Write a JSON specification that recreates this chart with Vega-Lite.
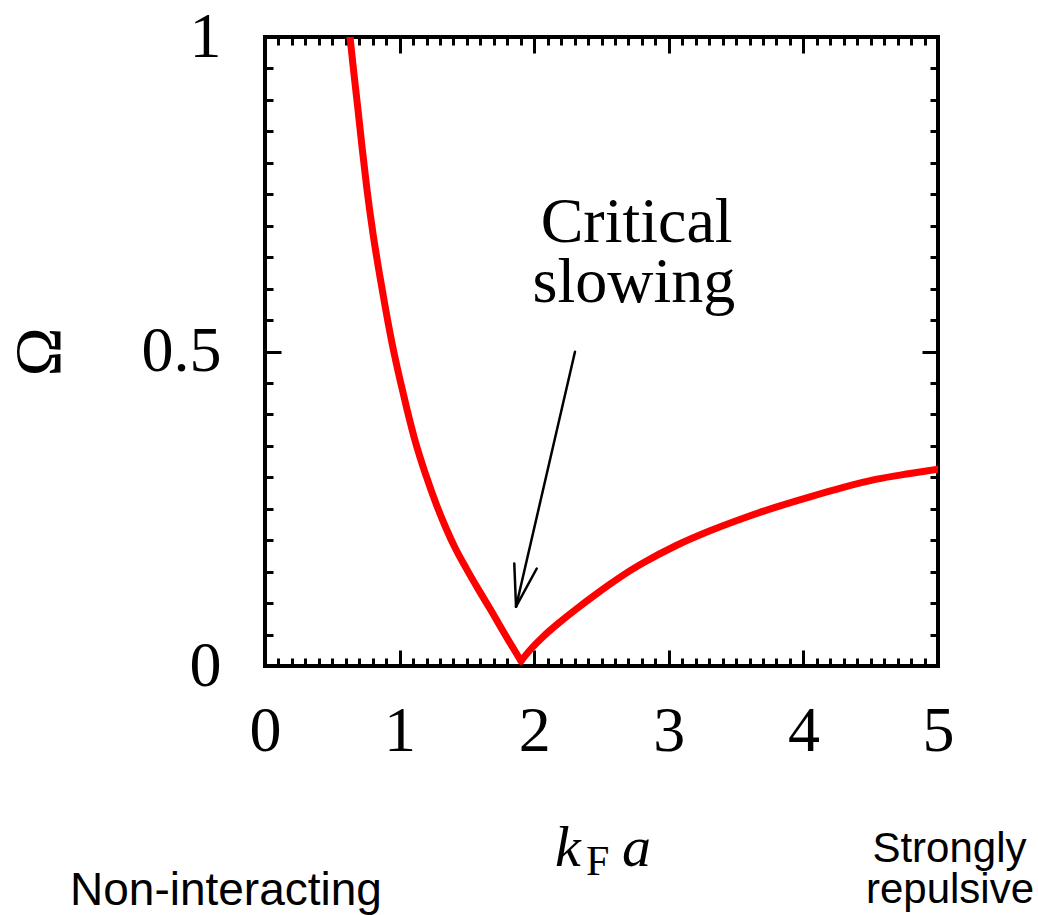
{
  "$schema": "https://vega.github.io/schema/vega-lite/v6.json",
  "width": 673,
  "height": 629,
  "autosize": {"type": "none"},
  "padding": {"left": 265, "top": 37, "right": 100, "bottom": 249},
  "background": "white",
  "config": {
    "view": {"stroke": "black", "strokeWidth": 4},
    "axis": {
      "domain": false,
      "grid": false,
      "tickColor": "black",
      "tickWidth": 3,
      "labelFont": "Liberation Serif",
      "labelFontSize": 64,
      "labelColor": "black",
      "labelOverlap": false,
      "labelFlush": false,
      "titleFont": "Liberation Serif",
      "titleFontWeight": "normal",
      "titleColor": "black"
    }
  },
  "datasets": {
    "curve": [
      {"branch": "left", "x": 0.62, "y": 1.02},
      {"branch": "left", "x": 0.6315, "y": 1.0},
      {"branch": "left", "x": 0.654, "y": 0.955},
      {"branch": "left", "x": 0.691, "y": 0.884},
      {"branch": "left", "x": 0.721, "y": 0.825},
      {"branch": "left", "x": 0.758, "y": 0.757},
      {"branch": "left", "x": 0.802, "y": 0.688},
      {"branch": "left", "x": 0.854, "y": 0.619},
      {"branch": "left", "x": 0.899, "y": 0.564},
      {"branch": "left", "x": 0.944, "y": 0.513},
      {"branch": "left", "x": 1.003, "y": 0.455},
      {"branch": "left", "x": 1.055, "y": 0.408},
      {"branch": "left", "x": 1.114, "y": 0.359},
      {"branch": "left", "x": 1.196, "y": 0.303},
      {"branch": "left", "x": 1.278, "y": 0.254},
      {"branch": "left", "x": 1.345, "y": 0.219},
      {"branch": "left", "x": 1.412, "y": 0.188},
      {"branch": "left", "x": 1.493, "y": 0.156},
      {"branch": "left", "x": 1.582, "y": 0.123},
      {"branch": "left", "x": 1.672, "y": 0.091},
      {"branch": "left", "x": 1.783, "y": 0.05},
      {"branch": "left", "x": 1.902, "y": 0.008},
      {"branch": "right", "x": 1.902, "y": 0.008},
      {"branch": "right", "x": 1.984, "y": 0.029},
      {"branch": "right", "x": 2.068, "y": 0.047},
      {"branch": "right", "x": 2.192, "y": 0.07},
      {"branch": "right", "x": 2.316, "y": 0.091},
      {"branch": "right", "x": 2.44, "y": 0.111},
      {"branch": "right", "x": 2.563, "y": 0.13},
      {"branch": "right", "x": 2.687, "y": 0.148},
      {"branch": "right", "x": 2.811, "y": 0.164},
      {"branch": "right", "x": 3.059, "y": 0.192},
      {"branch": "right", "x": 3.306, "y": 0.215},
      {"branch": "right", "x": 3.553, "y": 0.235},
      {"branch": "right", "x": 3.802, "y": 0.253},
      {"branch": "right", "x": 4.049, "y": 0.269},
      {"branch": "right", "x": 4.296, "y": 0.284},
      {"branch": "right", "x": 4.545, "y": 0.297},
      {"branch": "right", "x": 4.792, "y": 0.306},
      {"branch": "right", "x": 5.0, "y": 0.313}
    ],
    "arrow": [
      {"x": 2.303, "y": 0.4997, "x2": 1.865, "y2": 0.0943},
      {"x": 1.865, "y": 0.0943, "x2": 1.852, "y2": 0.163},
      {"x": 1.865, "y": 0.0943, "x2": 2.019, "y2": 0.155}
    ],
    "serif": [
      {"label": "Critical", "x": 2.761, "y": 0.6746},
      {"label": "slowing", "x": 2.741, "y": 0.579}
    ],
    "italic": [
      {"label": "k", "x": 2.155, "y": -0.318},
      {"label": "a", "x": 2.652, "y": -0.318}
    ],
    "sub": [
      {"label": "F", "x": 2.385, "y": -0.332}
    ],
    "sans": [
      {"label": "Non-interacting", "x": -0.29, "y": -0.38, "fs": 46},
      {"label": "Strongly", "x": 5.085, "y": -0.312, "fs": 42},
      {"label": "repulsive", "x": 5.089, "y": -0.377, "fs": 42}
    ]
  },
  "layer": [
    {
      "data": {"name": "curve"},
      "mark": {"type": "line", "color": "#ff0000", "strokeWidth": 7, "clip": true, "interpolate": "monotone", "strokeCap": "round"},
      "encoding": {
        "detail": {"field": "branch"},
        "x": {
          "field": "x", "type": "quantitative",
          "scale": {"domain": [0, 5], "nice": false, "zero": false},
          "axis": {
            "orient": "bottom",
            "title": null,
            "values": [0,0.1,0.2,0.3,0.4,0.5,0.6,0.7,0.8,0.9,1,1.1,1.2,1.3,1.4,1.5,1.6,1.7,1.8,1.9,2,2.1,2.2,2.3,2.4,2.5,2.6,2.7,2.8,2.9,3,3.1,3.2,3.3,3.4,3.5,3.6,3.7,3.8,3.9,4,4.1,4.2,4.3,4.4,4.5,4.6,4.7,4.8,4.9,5],
            "tickSize": {"condition": {"test": "datum.value % 1 === 0", "value": -16}, "value": -8},
            "labelExpr": "datum.value % 1 === 0 ? format(datum.value, 'd') : ''",
            "labelPadding": 49
          }
        },
        "y": {
          "field": "y", "type": "quantitative",
          "scale": {"domain": [0, 1], "nice": false, "zero": false},
          "axis": {
            "orient": "left",
            "title": "Ω",
            "titleFontSize": 66,
            "titlePadding": 68,
            "values": [0,0.05,0.1,0.15,0.2,0.25,0.3,0.35,0.4,0.45,0.5,0.55,0.6,0.65,0.7,0.75,0.8,0.85,0.9,0.95,1],
            "tickSize": {"condition": {"test": "datum.value % 0.5 === 0", "value": -16}, "value": -8},
            "labelExpr": "datum.value === 0.5 ? '0.5' : (datum.value % 1 === 0 ? format(datum.value, 'd') : '')",
            "labelPadding": 60
          }
        }
      }
    },
    {
      "data": {"name": "arrow"},
      "mark": {"type": "rule", "color": "black", "strokeWidth": 2.5, "strokeCap": "round"},
      "encoding": {
        "x": {
          "field": "x", "type": "quantitative",
          "scale": {"domain": [0, 5], "nice": false, "zero": false},
          "axis": {
            "orient": "top",
            "title": null,
            "labels": false,
            "values": [0,0.1,0.2,0.3,0.4,0.5,0.6,0.7,0.8,0.9,1,1.1,1.2,1.3,1.4,1.5,1.6,1.7,1.8,1.9,2,2.1,2.2,2.3,2.4,2.5,2.6,2.7,2.8,2.9,3,3.1,3.2,3.3,3.4,3.5,3.6,3.7,3.8,3.9,4,4.1,4.2,4.3,4.4,4.5,4.6,4.7,4.8,4.9,5],
            "tickSize": {"condition": {"test": "datum.value % 1 === 0", "value": -16}, "value": -8}
          }
        },
        "y": {
          "field": "y", "type": "quantitative",
          "scale": {"domain": [0, 1], "nice": false, "zero": false},
          "axis": {
            "orient": "right",
            "title": null,
            "labels": false,
            "values": [0,0.05,0.1,0.15,0.2,0.25,0.3,0.35,0.4,0.45,0.5,0.55,0.6,0.65,0.7,0.75,0.8,0.85,0.9,0.95,1],
            "tickSize": {"condition": {"test": "datum.value % 0.5 === 0", "value": -16}, "value": -8}
          }
        },
        "x2": {"field": "x2"},
        "y2": {"field": "y2"}
      }
    },
    {
      "data": {"name": "serif"},
      "mark": {"type": "text", "font": "Liberation Serif", "fontSize": 64, "align": "center", "baseline": "alphabetic", "color": "black"},
      "encoding": {
        "x": {"field": "x", "type": "quantitative", "scale": {"domain": [0, 5], "nice": false, "zero": false}, "axis": null},
        "y": {"field": "y", "type": "quantitative", "scale": {"domain": [0, 1], "nice": false, "zero": false}, "axis": null},
        "text": {"field": "label"}
      }
    },
    {
      "data": {"name": "italic"},
      "mark": {"type": "text", "font": "Liberation Serif", "fontStyle": "italic", "fontSize": 58, "align": "left", "baseline": "alphabetic", "color": "black"},
      "encoding": {
        "x": {"field": "x", "type": "quantitative", "scale": {"domain": [0, 5], "nice": false, "zero": false}, "axis": null},
        "y": {"field": "y", "type": "quantitative", "scale": {"domain": [0, 1], "nice": false, "zero": false}, "axis": null},
        "text": {"field": "label"}
      }
    },
    {
      "data": {"name": "sub"},
      "mark": {"type": "text", "font": "Liberation Serif", "fontSize": 42, "align": "left", "baseline": "alphabetic", "color": "black"},
      "encoding": {
        "x": {"field": "x", "type": "quantitative", "scale": {"domain": [0, 5], "nice": false, "zero": false}, "axis": null},
        "y": {"field": "y", "type": "quantitative", "scale": {"domain": [0, 1], "nice": false, "zero": false}, "axis": null},
        "text": {"field": "label"}
      }
    },
    {
      "data": {"name": "sans"},
      "mark": {"type": "text", "font": "Liberation Sans", "align": "center", "baseline": "alphabetic", "color": "black"},
      "encoding": {
        "x": {"field": "x", "type": "quantitative", "scale": {"domain": [0, 5], "nice": false, "zero": false}, "axis": null},
        "y": {"field": "y", "type": "quantitative", "scale": {"domain": [0, 1], "nice": false, "zero": false}, "axis": null},
        "size": {"field": "fs", "type": "quantitative", "scale": null},
        "text": {"field": "label"}
      }
    }
  ],
  "resolve": {"axis": {"x": "independent", "y": "independent"}}
}
